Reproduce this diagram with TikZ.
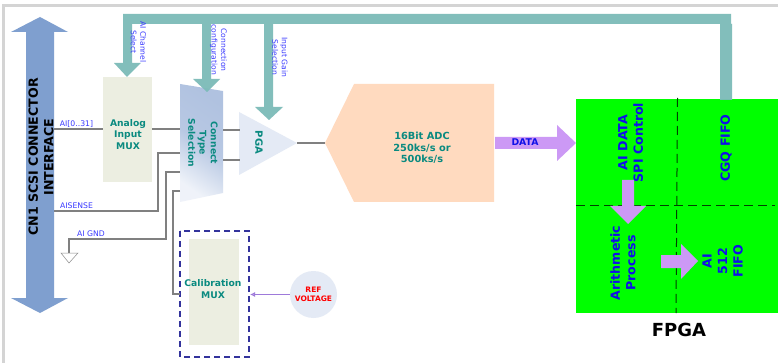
\documentclass[tikz,border=0pt]{standalone}
\usepackage{fontspec}
\setmainfont{DejaVu Sans}
\usetikzlibrary{arrows.meta}
\definecolor{tealbar}{HTML}{7CBBB8}
\definecolor{tealtxt}{HTML}{0A8A80}
\definecolor{wire}{HTML}{808080}
\definecolor{muxfill}{HTML}{ECEEE1}
\definecolor{bluebig}{HTML}{7F9FCF}
\definecolor{paleblue}{HTML}{E4EAF5}
\definecolor{trapblue}{HTML}{B0C2E0}
\definecolor{adcfill}{HTML}{FFDABF}
\definecolor{purp}{HTML}{CC99F5}
\definecolor{lbl}{HTML}{3A3AFF}
\definecolor{fpgatxt}{HTML}{1010E8}
\definecolor{dashblue}{HTML}{33339C}
\tikzset{
  x=1pt,y=-1pt,
  wireline/.style={draw=wire,line width=2pt},
  muxbox/.style={fill=muxfill,inner sep=0pt},
  muxtext/.style={inner sep=0pt,align=center,text=tealtxt,font=\fontsize{9.2}{11.3}\selectfont\bfseries},
  smalllabel/.style={text=lbl,font=\fontsize{7.7}{9}\selectfont,inner sep=0pt},
  sidelabel/.style={text=lbl,font=\fontsize{7.6}{9.6}\selectfont,inner sep=0pt,rotate=-90,align=center},
  fpgalabel/.style={text=fpgatxt,font=\fontsize{12.6}{15.5}\selectfont\bfseries,inner sep=0pt,rotate=90,align=center},
  tealarrow/.style={fill=tealbar,draw=none,opacity=.95},
  purparrow/.style={fill=purp,draw=none},
}
\begin{document}
\begin{tikzpicture}
\useasboundingbox (0,0) rectangle (778,363);
\fill[white] (0,0) rectangle (778,363);
% page frame
\fill[black!17] (2,4) rectangle (778,7);
\fill[black!17] (2,4) rectangle (5,363);

% connector block arrow
\fill[bluebig] (40,17) -- (68,32) -- (54,32) -- (54,298) -- (68,298) -- (40,313) -- (11,298) -- (26,298) -- (26,32) -- (11,32) -- cycle;
\node[rotate=90,align=center,inner sep=0pt,font=\fontsize{12.6}{15.5}\selectfont\bfseries,text=black] (cn) at (41,157) {CN1 SCSI CONNECTOR\\INTERFACE};

% named blocks
\node[muxbox,minimum width=49pt,minimum height=105pt] (amux) at (127.5,129.5) {};
\node[muxtext] (amuxt) at (128,134.5) {Analog\\Input\\MUX};
\shade[top color=trapblue,bottom color=paleblue!60,middle color=trapblue!90,shading angle=-35] (180,84) -- (223,91) -- (223,193) -- (180,202) -- cycle;
\node[rotate=-90,muxtext] (cts) at (203,143) {Connect\\Type\\Selection};
\fill[paleblue] (239,112) -- (297,143) -- (239,175) -- cycle;
\node[rotate=-90,inner sep=0pt,text=tealtxt,font=\fontsize{10}{12}\selectfont\bfseries] (pga) at (259,142.5) {PGA};
\fill[adcfill] (325,143) -- (354,84) -- (494,84) -- (494,202) -- (354,202) -- cycle;
\node[align=center,inner sep=0pt,text=tealtxt,font=\fontsize{9.8}{11.3}\selectfont\bfseries] (adc) at (422,148) {16Bit ADC\\250ks/s or\\500ks/s};
\node[muxbox,minimum width=50pt,minimum height=106pt] (cmux) at (214,292) {};
\node[muxtext] (cmuxt) at (213,289) {Calibration\\MUX};
\draw[dashblue,line width=1.4pt,dash pattern=on 6pt off 4pt] (180,231) rectangle (249,357);
\node[circle,fill=paleblue,minimum size=47pt,inner sep=0pt,align=center,text=red,font=\fontsize{7.5}{8.5}\selectfont\bfseries] (ref) at (313.5,294.5) {REF\\VOLTAGE};

% wires
\coordinate (aisrc) at (54,129);
\coordinate (ctsA) at (180,129);
\coordinate (ctsB) at (180,153);
\coordinate (ctsC) at (180,172);
\coordinate (ctsD) at (180,191.5);
\coordinate (ctsOutA) at (223,130);
\coordinate (ctsOutB) at (223,160);
\coordinate (pgaA) at (240,130);
\coordinate (pgaB) at (240,160);
\coordinate (pgaOut) at (297,143);
\coordinate (adcIn) at (325,143);
\coordinate (sense) at (54,211);
\coordinate (gnd) at (69,253);
\coordinate (cmuxIn) at (180,294);
\draw[wireline] (aisrc) -- (amux.west|-aisrc);
\draw[wireline] (amux.east|-aisrc) -- (ctsA);
\draw[wireline] (ctsOutA) -- (pgaA);
\draw[wireline] (ctsOutB) -- (pgaB);
\draw[wireline] (pgaOut) -- (adcIn);
\draw[wireline] (sense) -| (158,153) -- (ctsB);
\draw[wireline] (gnd) -- (69,239) -| (166,172) -- (ctsC);
\draw[wireline] (ctsD) -| (173,294) -- (cmuxIn);
\draw[black!45,line width=.5pt,fill=white] (61,253) -- (78,253) -- (69,263) -- cycle;
\draw[draw=purp!70!dashblue,line width=1pt,-{Latex[length=5pt,width=5pt,open,fill=purp!50]}] (ref) -- (250,294.5);

% labels on wires
\node[smalllabel] (l1) at (76.5,124) {AI[0..31]};
\node[smalllabel] (l2) at (76.5,206) {AISENSE};
\node[smalllabel] (l3) at (91,233.5) {AI GND};

% fpga
\fill[green] (576,99) rectangle (778,313);
\draw[black!75!green,line width=1pt,dash pattern=on 9pt off 5pt] (677.5,98) -- (676,313);
\draw[black!75!green,line width=1pt,dash pattern=on 9pt off 5pt] (576,206) -- (775,206);

% teal control bus
\fill[tealarrow] (123,14) -- (731,14) -- (731,24) -- (732,24) -- (732,100) -- (720,100) -- (720,24) -- (273,24) -- (273,107) -- (283,107) -- (269,120) -- (255,107) -- (264,107) -- (264,24) -- (211,24) -- (211,79) -- (220,79) -- (207,92) -- (193,79) -- (202,79) -- (202,24) -- (132,24) -- (132,63) -- (141,63) -- (127,77) -- (114,63) -- (123,63) -- cycle;

\node[sidelabel] (s1) at (138.5,42) {AI Channel\\Select};
\node[sidelabel] (s2) at (218.5,50) {Connection\\configuration};
\node[sidelabel] (s3) at (280,57.5) {Input Gain\\Selection};

% data arrows
\fill[purparrow] (495,137) -- (557,137) -- (557,125) -- (576,143) -- (557,161) -- (557,149) -- (495,149) -- cycle;
\node[inner sep=0pt,text=fpgatxt,font=\fontsize{9.3}{11}\selectfont\bfseries] (dl) at (525,142.5) {DATA};
\node[fpgalabel] (f1) at (630.5,142.5) {AI DATA\\SPI Control};
\node[fpgalabel] (f2) at (623,263) {Arithmetic\\Process};
\node[fpgalabel] (f3) at (722.5,261) {AI\\512\\FIFO};
\node[fpgalabel] (f4) at (726,148) {CGQ FIFO};
\fill[purparrow] (622,180) -- (634,180) -- (634,206) -- (646,206) -- (628,224) -- (610,206) -- (622,206) -- cycle;
\fill[purparrow] (661,255) -- (681,255) -- (681,244) -- (698,261) -- (681,279) -- (681,268) -- (661,268) -- cycle;
\node[inner sep=0pt,text=black,font=\fontsize{18}{21}\selectfont\bfseries] (fpga) at (679,330) {FPGA};
\end{tikzpicture}
\end{document}
